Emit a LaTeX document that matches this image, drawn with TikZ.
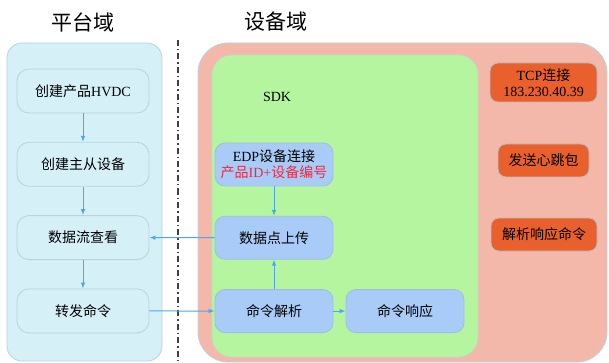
\documentclass[tikz,border=0pt]{standalone}
\usepackage{fontspec}
\setmainfont{Liberation Serif}
\newfontfamily\cjk{Noto Sans CJK SC}
\usetikzlibrary{positioning, arrows.meta}

\definecolor{platfill}{HTML}{D5F0F7}
\definecolor{platline}{HTML}{BCD2D9}
\definecolor{devfill}{HTML}{F4B8AA}
\definecolor{sdkfill}{HTML}{B5F5A0}
\definecolor{sdkbox}{HTML}{A8CCF7}
\definecolor{tcpfill}{HTML}{EA602D}
\definecolor{flow}{HTML}{4DA6F0}
\definecolor{idred}{HTML}{F0283C}

\begin{document}
\begin{tikzpicture}[x=1pt, y=-1pt, node distance=73.3pt, on grid,
    flowarr/.style={-{Latex[length=6pt, width=4.5pt]}, draw=flow, line width=1pt},
    platbox/.style={draw=platline, fill=platfill, rounded corners=12pt, line width=0.8pt,
      minimum width=132pt, minimum height=44pt, font=\fontsize{14}{16}\selectfont},
    sdkstep/.style={draw=sdkbox!80!gray, fill=sdkbox, rounded corners=10pt, line width=0.8pt,
      minimum width=118pt, minimum height=43pt, align=center, font=\fontsize{14}{16}\selectfont},
    tcpbox/.style={draw=platline!80!gray, fill=tcpfill, rounded corners=8pt, line width=0.8pt,
      minimum height=33pt, inner sep=2pt, align=center, font=\fontsize{14}{16.5}\selectfont}]
      \useasboundingbox (0,0) rectangle (609,363);

      % Domains
      \node (platlabel) at (83,22) {\cjk\fontsize{21}{23}\selectfont 平台域};
      \node (devlabel) at (276,22) {\cjk\fontsize{21}{23}\selectfont 设备域};
      \draw[draw=platline, fill=platfill, rounded corners=15pt, line width=0.8pt] (7,43) rectangle (162,361);
      \draw[draw=platline, fill=devfill, rounded corners=30pt, line width=0.8pt] (198,43) rectangle (607,362);
      \draw[draw=platline!60!sdkfill, fill=sdkfill, rounded corners=20pt, line width=0.8pt] (212,55) rectangle (478,357);
      \coordinate (sepTop) at (178,40);
      \coordinate (sepBot) at (178,363);
      \draw[draw=black!75, line width=1.5pt, dash pattern=on 6pt off 3pt on 1.5pt off 3pt] (sepTop) -- (sepBot);

      % Platform steps
      \node[platbox] (hvdc) at (83,91) {{\cjk 创建产品}HVDC};
      \node[platbox] (master) [below=of hvdc] {\cjk 创建主从设备};
      \node[platbox] (stream) [below=of master] {\cjk 数据流查看};
      \node[platbox] (forward) [below=of stream] {\cjk 转发命令};

      % SDK steps
      \node (sdk) at (277,97) {\fontsize{14}{16}\selectfont SDK};
      \node[sdkstep] (edp) at (274,164.5) {EDP{\cjk 设备连接}\\\textcolor{idred}{{\cjk 产品}ID+{\cjk 设备编号}}};
      \node[sdkstep] (upload) [below=of edp] {\cjk 数据点上传};
      \node[sdkstep] (parse) [below=of upload] {\cjk 命令解析};
      \node[sdkstep] (reply) [right=131pt of parse] {\cjk 命令响应};

      % Device side
      \node[tcpbox, minimum width=107pt, minimum height=39pt] (tcp) at (543.5,82.5) {TCP{\cjk 连接}\\183.230.40.39};
      \node[tcpbox, minimum width=91pt] (beat) at (543.5,160.5) {\cjk 发送心跳包};
      \node[tcpbox, minimum width=106pt] (resp) at (544,234.5) {\cjk 解析响应命令};

      % Edges
      \draw[flowarr] (hvdc) -- (master);
      \draw[flowarr] (master) -- (stream);
      \draw[flowarr] (stream) -- (forward);
      \draw[flowarr] (edp) -- (upload);
      \draw[flowarr] (parse) -- (upload);
      \draw[flowarr] (parse) -- (reply);
      \draw[flowarr] (upload) -- (stream);
      \draw[flowarr] (forward) -- (parse);
    \end{tikzpicture}
\end{document}
